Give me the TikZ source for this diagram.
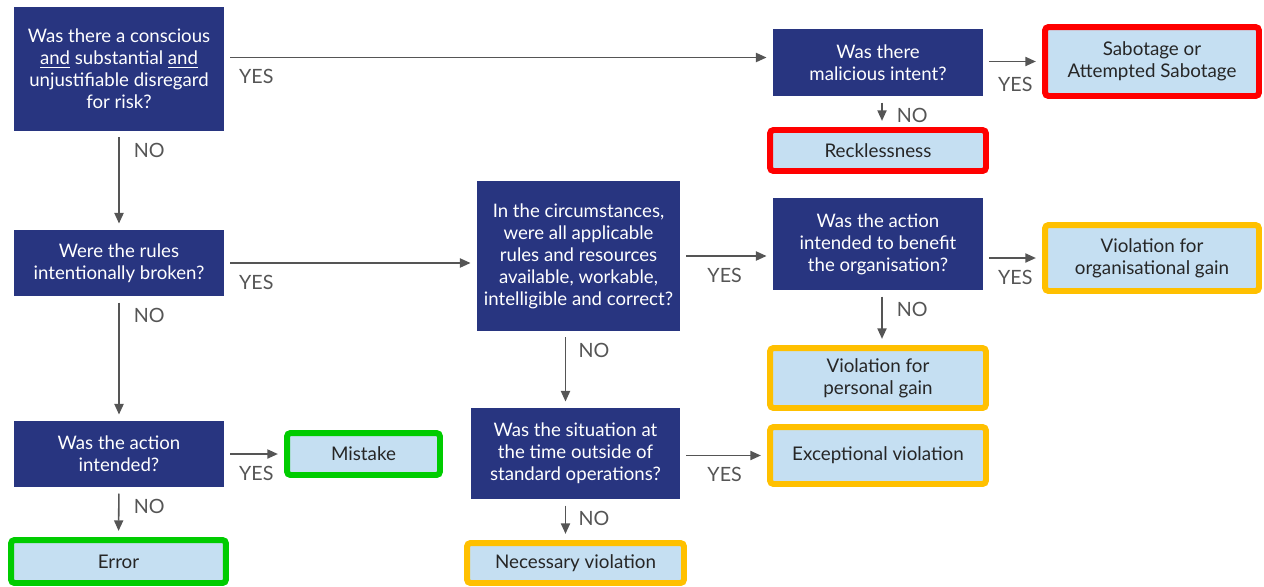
\documentclass[tikz,border=0pt]{standalone}
\usepackage{fontspec}
\setmainfont{Lato}
\usepackage{xcolor}
\usetikzlibrary{arrows.meta,positioning,calc}

\definecolor{qblue}{RGB}{40,53,128}
\definecolor{endblue}{RGB}{197,223,242}
\definecolor{arrgray}{RGB}{85,85,85}
\definecolor{endred}{RGB}{255,0,0}
\definecolor{endgreen}{RGB}{0,204,0}
\definecolor{endamber}{RGB}{255,192,0}

\begin{document}
\begin{tikzpicture}[
  x=0.02cm, y=-0.02cm,
  qbox/.style={fill=qblue, text=white, align=center, inner sep=0pt,
               font=\fontsize{10.6}{12.5}\selectfont},
  endbox/.style={fill=endblue, draw, line width=3.4pt, rounded corners=2pt,
                 align=center, inner sep=0pt, text=black!85,
                 font=\fontsize{10.7}{12.5}\selectfont},
  arr/.style={-{Triangle[length=6pt,width=5.2pt]}, arrgray, line width=0.9pt,
              shorten <=3.5pt, shorten >=3.5pt},
  lbl/.style={at start, anchor=north west, xshift=8pt, yshift=-6.5pt,
              inner sep=0pt, text=arrgray, font=\fontsize{11.2}{12}\selectfont}
]
  \useasboundingbox (0,0) rectangle (1264,586);

  % Questions
  \node[qbox, minimum width=4.2cm, minimum height=2.48cm] (q1) at (119,69)
    {Was there a conscious\\ \underline{and} substantial \underline{and}\\
     unjustifiable disregard\\ for risk?};
  \node[qbox, minimum width=4.2cm, minimum height=1.34cm] (q2) at (878,62.5)
    {Was there\\ malicious intent?};
  \node[qbox, minimum width=4.2cm, minimum height=1.32cm] (q3) at (119,263)
    {Were the rules\\ intentionally broken?};
  \node[qbox, minimum width=4.06cm, minimum height=3.0cm] (q4) at (578.5,256)
    {In the circumstances,\\ were all applicable\\ rules and resources\\
     available, workable,\\ intelligible and correct?};
  \node[qbox, minimum width=4.2cm, minimum height=1.84cm] (q5) at (878,244)
    {Was the action\\ intended to benefit\\ the organisation?};
  \node[qbox, minimum width=4.2cm, minimum height=1.32cm] (q6) at (119,454)
    {Was the action\\ intended?};
  \node[qbox, minimum width=4.18cm, minimum height=1.82cm] (q7) at (575.5,453.5)
    {Was the situation at\\ the time outside of\\ standard operations?};

  % Outcomes
  \node[endbox, draw=endred, minimum width=4.28cm, minimum height=1.38cm]
    (sab) at (1152,61.5) {Sabotage or\\ Attempted Sabotage};
  \node[endbox, draw=endred, minimum width=4.32cm, minimum height=0.82cm]
    (reck) at (878,150.5) {Recklessness};
  \node[endbox, draw=endamber, minimum width=4.28cm, minimum height=1.32cm]
    (vog) at (1152,258) {Violation for\\ organisational gain};
  \node[endbox, draw=endamber, minimum width=4.32cm, minimum height=1.2cm]
    (vpg) at (878,378) {Violation for\\ personal gain};
  \node[endbox, draw=endamber, minimum width=4.32cm, minimum height=1.14cm]
    (exc) at (878,455.5) {Exceptional violation};
  \node[endbox, draw=endamber, minimum width=4.34cm, minimum height=0.8cm]
    (nec) at (575.5,563) {Necessary violation};
  \node[endbox, draw=endgreen, minimum width=3.06cm, minimum height=0.84cm]
    (mis) at (363.5,454) {Mistake};
  \node[endbox, draw=endgreen, minimum width=4.3cm, minimum height=0.86cm]
    (err) at (118.5,561.5) {Error};

  % Connectors
  \draw[arr] ([yshift=0.1cm]q1.east |- q2.west) -- node[lbl] {YES}
    ([yshift=0.1cm]q2.west);
  \draw[arr] (q1.south) -- node[lbl] {NO} (q3.north);
  \draw[arr] (q2.east |- sab.west) -- node[lbl, yshift=-2pt] {YES} (sab.west);
  \draw[arr] ([xshift=0.08cm]q2.south) -- node[lbl] {NO}
    ([xshift=0.08cm]reck.north);
  \draw[arr] (q3.east) -- node[lbl] {YES} (q3.east -| q4.west);
  \draw[arr] (q3.south) -- node[lbl] {NO} (q6.north);
  \draw[arr] (q4.east) -- node[lbl, xshift=7pt] {YES} (q4.east -| q5.west);
  \draw[arr] ([xshift=-0.26cm]q4.south) -- node[lbl, xshift=-1pt] {NO}
    ([xshift=-0.26cm]q4.south |- q7.north);
  \draw[arr] (q5.east |- vog.west) -- node[lbl] {YES} (vog.west);
  \draw[arr] ([xshift=0.08cm]q5.south) -- node[lbl] {NO}
    ([xshift=0.08cm]vpg.north);
  \draw[arr] (q6.east) -- node[lbl] {YES} (mis.west);
  \draw[arr] (q6.south) -- node[lbl] {NO} (err.north);
  \draw[arr] (q7.east |- exc.west) -- node[lbl, xshift=7pt] {YES} (exc.west);
  \draw[arr] ([xshift=-0.2cm]q7.south) -- node[lbl, xshift=-1pt] {NO}
    ([xshift=-0.2cm]q7.south |- nec.north);
\end{tikzpicture}
\end{document}
